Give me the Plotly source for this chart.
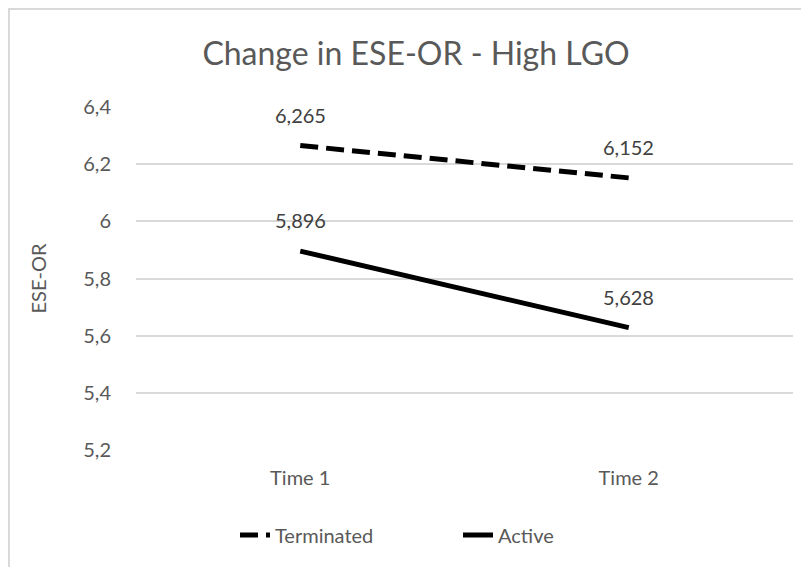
import plotly.graph_objects as go

categories = ["Time 1", "Time 2"]
terminated = [6.265, 6.152]
active = [5.896, 5.628]
tick_vals = [5.2, 5.4, 5.6, 5.8, 6.0, 6.2, 6.4]
tick_text = ["5,2", "5,4", "5,6", "5,8", "6", "6,2", "6,4"]

def fmt(v):
    return f"{v:.3f}".replace(".", ",")

FONT = "Lato, 'Open Sans', sans-serif"
GRAY = "#595959"
LBL = "#404040"
FS = 20

W, H = 801, 559
L, T, R, B = 128, 99, 16, 117
PW, PH = W - L - R, H - T - B

fig = go.Figure()
fig.add_trace(go.Scatter(
    x=categories, y=terminated, name="Terminated", mode="lines",
    line=dict(color="black", width=5, dash="18px,8px"),
))
fig.add_trace(go.Scatter(
    x=categories, y=active, name="Active", mode="lines",
    line=dict(color="black", width=5),
))
for series in (terminated, active):
    for c, v in zip(categories, series):
        fig.add_annotation(x=c, y=v, text=fmt(v), showarrow=False, yshift=31,
                           font=dict(size=FS, color=LBL, family=FONT))

fig.update_layout(
    width=W, height=H,
    paper_bgcolor="white", plot_bgcolor="white",
    margin=dict(l=L, r=R, t=T, b=B, autoexpand=False),
    title=dict(text="Change in ESE-OR - High LGO", x=408 / W, xanchor="center",
               xref="container", y=1 - 46 / H, yanchor="middle", yref="container",
               font=dict(size=32, color=GRAY, family=FONT)),
    font=dict(family=FONT, color=GRAY, size=FS),
    showlegend=True,
    legend=dict(orientation="h", x=(227 - L) / PW, xanchor="left",
                y=-(527 - T - PH) / PH, yanchor="middle",
                font=dict(size=FS, color=GRAY), entrywidth=178, traceorder="normal"),
    xaxis=dict(type="category", range=[-0.5, 1.5], showgrid=False, zeroline=False,
               showline=False, ticks="", automargin=False, ticklabelstandoff=14,
               tickfont=dict(size=FS, color=GRAY)),
    yaxis=dict(range=[5.2, 6.4], tickvals=tick_vals, ticktext=tick_text,
               showgrid=True, gridcolor="#d9d9d9", gridwidth=2, zeroline=False,
               showline=False, ticks="", ticklabelstandoff=24, automargin=False,
               tickfont=dict(size=FS, color=GRAY),
               title=dict(text="ESE-OR", font=dict(size=FS, color=GRAY), standoff=31)),
)
fig.add_shape(type="rect", xref="paper", yref="paper",
              x0=(1 - L) / PW, y0=-(B + 50) / PH, x1=1.1, y1=1 + (T - 1) / PH,
              line=dict(color="#d9d9d9", width=2), fillcolor="rgba(0,0,0,0)", layer="below")
fig.write_html("out.html")
